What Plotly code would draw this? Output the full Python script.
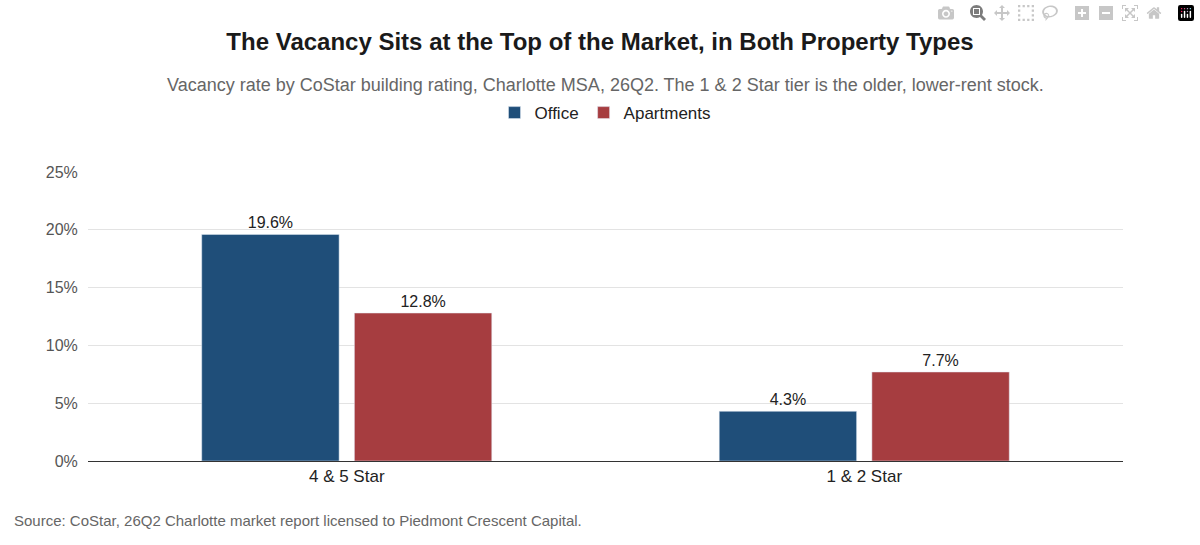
import plotly.graph_objects as go

categories = ["4 & 5 Star", "1 & 2 Star"]
office = [19.6, 4.3]
apartments = [12.8, 7.7]
yticks = [0, 5, 10, 15, 20, 25]
ytick_labels = [f"{v}%" for v in yticks]

font = "Liberation Sans, Arial, sans-serif"
fig = go.Figure()
for name, vals, col in [("Office", office, "#1F4E79"), ("Apartments", apartments, "#A63D40")]:
    fig.add_trace(go.Bar(
        x=categories, y=vals, name=name, marker_color=col,
        text=[f"{v}%" for v in vals], textposition="outside",
        textfont=dict(size=16, color="#222"), cliponaxis=False,
        hoverinfo="skip"))

fig.update_layout(
    width=1200, height=545, paper_bgcolor="white", plot_bgcolor="white",
    font=dict(family=font),
    margin=dict(l=88, r=77, t=172, b=84),
    barmode="group", bargap=0.41, bargroupgap=0.1,
    title=dict(text="<b>The Vacancy Sits at the Top of the Market, in Both Property Types</b>",
               x=0.5, xanchor="center", y=0.923, yanchor="middle",
               font=dict(size=24, color="#1a1a1a")),
    legend=dict(orientation="h", x=0.5, xanchor="center", y=1.204, yanchor="middle",
                font=dict(size=17, color="#222")),
    showlegend=True,
    xaxis=dict(tickfont=dict(size=17, color="#222"), showline=True, linecolor="#333",
               linewidth=1, ticks=""),
    yaxis=dict(range=[0, 25], tickvals=yticks, ticktext=ytick_labels,
               tickfont=dict(size=16, color="#555"), gridcolor="#e3e3e3",
               zeroline=False, ticks="outside", ticklen=6, tickcolor="white"),
    annotations=[
        dict(text="Vacancy rate by CoStar building rating, Charlotte MSA, 26Q2. The 1 & 2 Star tier is the older, lower-rent stock.",
             xref="paper", yref="paper", x=0.5, y=1.0, yshift=87, xanchor="center", yanchor="middle",
             showarrow=False, font=dict(size=18, color="#666")),
        dict(text="Source: CoStar, 26Q2 Charlotte market report licensed to Piedmont Crescent Capital.",
             xref="paper", yref="paper", x=0, xshift=-76, y=0, yshift=-59, xanchor="left", yanchor="middle",
             showarrow=False, font=dict(size=15, color="#666")),
    ],
)
fig.write_html("out.html", post_script="document.body.style.margin='0';")
